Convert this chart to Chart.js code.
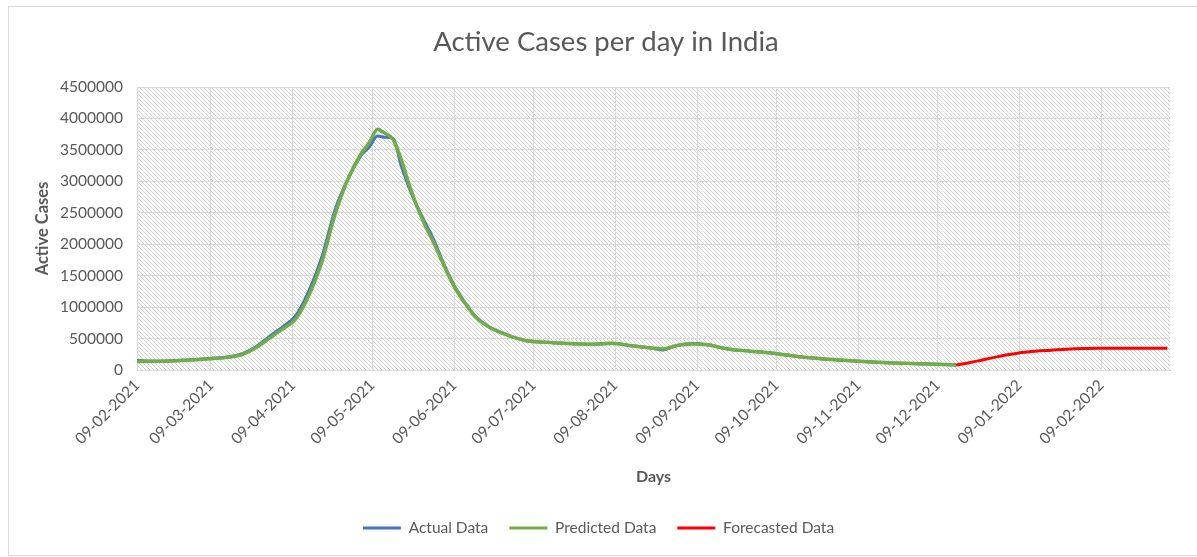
<!DOCTYPE html>
<html>
<head>
<meta charset="utf-8">
<script src="https://cdn.jsdelivr.net/npm/chart.js@4.4.1/dist/chart.umd.min.js"></script>
<style>
  body { margin: 0; background: #fff; }
  #frame { position: absolute; left: 8px; top: 6px; width: 1200px; height: 548px; border: 1px solid #d9d9d9; }
  #chart { position: absolute; left: 0; top: 0; }
</style>
</head>
<body>
<div id="frame"></div>
<canvas id="chart" width="1197" height="557"></canvas>
<script>
// day 0 = 09-02-2021
const startDate = '09-02-2021';
const tickLabels = ['09-02-2021', '09-03-2021', '09-04-2021', '09-05-2021', '09-06-2021', '09-07-2021',
  '09-08-2021', '09-09-2021', '09-10-2021', '09-11-2021', '09-12-2021', '09-01-2022', '09-02-2022'];

const sampleDays = [0, 7, 14, 21, 28, 35, 40, 45, 50, 55, 60, 65, 70, 75, 80, 85, 88, 91, 94, 97,
  100, 103, 106, 109, 112, 116, 120, 124, 128, 133, 140, 147, 155, 163, 171, 180, 188, 195, 199,
  204, 210, 216, 224, 232, 240, 250, 262, 275, 287, 300, 310];
const actualCases = [150000, 140000, 150000, 165000, 185000, 210000, 260000, 370000, 530000, 680000,
  860000, 1250000, 1800000, 2550000, 3050000, 3420000, 3550000, 3720000, 3700000, 3680000,
  3250000, 2900000, 2600000, 2350000, 2100000, 1700000, 1350000, 1080000, 860000, 690000,
  560000, 470000, 440000, 420000, 410000, 420000, 380000, 345000, 320000, 385000,
  420000, 400000, 330000, 300000, 270000, 215000, 165000, 135000, 110000, 95000, 80000];
const predictedCases = [135000, 138000, 145000, 160000, 180000, 205000, 250000, 355000, 500000, 650000,
  810000, 1180000, 1720000, 2480000, 3050000, 3450000, 3620000, 3830000, 3760000, 3660000,
  3350000, 2950000, 2600000, 2300000, 2050000, 1680000, 1330000, 1070000, 850000, 690000,
  560000, 470000, 440000, 420000, 410000, 425000, 380000, 350000, 335000, 385000,
  415000, 400000, 330000, 300000, 270000, 215000, 170000, 135000, 112000, 95000, 85000];

const forecastDays = [310, 315, 320, 325, 330, 335, 340, 346, 352, 358, 364, 377, 390];
const forecastCases = [80000, 115000, 160000, 205000, 245000, 280000, 300000, 315000, 330000,
  340000, 345000, 345000, 345000];

const yTicks = [0, 500000, 1000000, 1500000, 2000000, 2500000, 3000000, 3500000, 4000000, 4500000];

function dayOf(label) {
  const [d, m, y] = label.split('-').map(Number);
  const [d0, m0, y0] = startDate.split('-').map(Number);
  return Math.round((Date.UTC(y, m - 1, d) - Date.UTC(y0, m0 - 1, d0)) / 86400000);
}
const tickDays = tickLabels.map(dayOf);

const toPoints = (xs, ys) => xs.map((x, i) => ({ x: x, y: ys[i] }));

function makeHatch() {
  const c = document.createElement('canvas');
  c.width = 4; c.height = 4;
  const g = c.getContext('2d');
  g.fillStyle = '#ffffff';
  g.fillRect(0, 0, 4, 4);
  g.strokeStyle = '#d2d2d2';
  g.lineWidth = 1;
  g.beginPath();
  g.moveTo(-1, -1); g.lineTo(5, 5);
  g.moveTo(-1, 3); g.lineTo(1, 5);
  g.moveTo(3, -1); g.lineTo(5, 1);
  g.stroke();
  return g.createPattern(c, 'repeat');
}

const hatchPlugin = {
  id: 'hatch',
  beforeDraw(chart) {
    const { ctx, chartArea: a } = chart;
    ctx.save();
    ctx.fillStyle = makeHatch();
    ctx.fillRect(a.left, a.top, a.right - a.left, a.bottom - a.top);
    ctx.restore();
  }
};

// title and legend sit a little right of centre in the original
const nudgePlugin = {
  id: 'nudge',
  afterLayout(chart) {
    if (chart.titleBlock) { chart.titleBlock.left += 17; chart.titleBlock.right += 17; }
    if (chart.legend) { chart.legend.left += 9.5; chart.legend.right += 9.5; }
  }
};

const textColor = '#595959';
const gridColor = '#d9d9d9';

new Chart(document.getElementById('chart'), {
  type: 'line',
  data: {
    datasets: [
      {
        label: 'Actual Data',
        data: toPoints(sampleDays, actualCases),
        borderColor: '#4472C4',
        backgroundColor: '#4472C4',
        borderWidth: 3,
        order: 3
      },
      {
        label: 'Predicted Data',
        data: toPoints(sampleDays, predictedCases),
        borderColor: '#70AD47',
        backgroundColor: '#70AD47',
        borderWidth: 3.5,
        order: 2
      },
      {
        label: 'Forecasted Data',
        data: toPoints(forecastDays, forecastCases),
        borderColor: '#FF0000',
        backgroundColor: '#FF0000',
        borderWidth: 3,
        order: 1
      }
    ]
  },
  options: {
    responsive: false,
    animation: false,
    layout: { padding: { top: 0, left: 8, right: 27, bottom: 11.25 } },
    elements: {
      point: { radius: 0 },
      line: { cubicInterpolationMode: 'monotone' }
    },
    plugins: {
      title: {
        display: true,
        text: 'Active Cases per day in India',
        color: textColor,
        font: { family: 'Lato', size: 27.5, weight: 'normal' },
        padding: { top: 25.5, bottom: 28.5 }
      },
      legend: {
        position: 'bottom',
        maxHeight: 50,
        labels: {
          color: textColor,
          font: { family: 'Lato', size: 15.5 },
          boxWidth: 38,
          boxHeight: 3,
          padding: 21,
          sort: (a, b) => a.datasetIndex - b.datasetIndex,
          generateLabels: chart => Chart.defaults.plugins.legend.labels.generateLabels(chart)
            .map(l => ({ ...l, lineWidth: 0, fillStyle: l.strokeStyle }))
        }
      },
      tooltip: { enabled: false }
    },
    scales: {
      x: {
        type: 'linear',
        min: 0,
        max: 391,
        afterBuildTicks: scale => { scale.ticks = tickDays.map(v => ({ value: v })); },
        afterFit: scale => { scale.height = 129.25; },
        ticks: {
          autoSkip: false,
          minRotation: 45,
          maxRotation: 45,
          padding: 6,
          color: textColor,
          font: { family: 'Lato', size: 15.5 },
          callback: (v, i) => tickLabels[i]
        },
        grid: { color: gridColor, drawTicks: false },
        border: { color: gridColor },
        title: {
          display: true,
          text: 'Days',
          color: textColor,
          font: { family: 'Lato', size: 16, weight: 'bold' },
          padding: { top: 0, bottom: 12.65 }
        }
      },
      y: {
        min: 0,
        max: 4500000,
        afterBuildTicks: scale => { scale.ticks = yTicks.map(v => ({ value: v })); },
        afterFit: scale => { scale.width = 129; },
        ticks: {
          padding: 14,
          color: textColor,
          font: { family: 'Lato', size: 15.5 },
          callback: v => String(v)
        },
        grid: { color: gridColor, drawTicks: false },
        border: { display: false },
        title: {
          display: true,
          text: 'Active Cases',
          color: textColor,
          font: { family: 'Lato', size: 16.5, weight: 'bold' },
          padding: { top: 25.1, bottom: 0 }
        }
      }
    }
  },
  plugins: [hatchPlugin, nudgePlugin]
});
</script>
</body>
</html>
